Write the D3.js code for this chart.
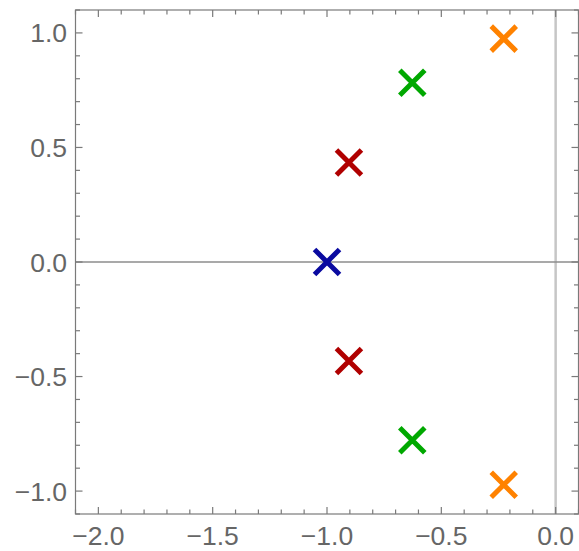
<!DOCTYPE html>
<html>
<head>
<meta charset="utf-8">
<script src="https://cdn.jsdelivr.net/npm/d3@7"></script>
<style>
  html, body { margin: 0; padding: 0; background: #fff; }
  svg { display: block; }
  .tick-label { font-family: "Liberation Sans", Arial, sans-serif; font-size: 26.5px; fill: #666; }
</style>
</head>
<body>
<div id="chart"></div>
<script>
const poleRe = [-1.0, -0.904, -0.904, -0.627, -0.627, -0.227, -0.227];
const poleIm = [0.0, 0.434, -0.432, 0.782, -0.778, 0.975, -0.972];
const poleGroup = [0, 1, 1, 2, 2, 3, 3];
const groupColors = ["#0a0aa0", "#b00000", "#00a800", "#ff8200"];

const xMajor = [-2.0, -1.5, -1.0, -0.5, 0.0];
const xLabels = ["\u22122.0", "\u22121.5", "\u22121.0", "\u22120.5", "0.0"];
const yMajor = [-1.0, -0.5, 0.0, 0.5, 1.0];
const yLabels = ["\u22121.0", "\u22120.5", "0.0", "0.5", "1.0"];

const width = 579, height = 551;
const plotLeft = 75.5, plotRight = 578.5, plotTop = 10, plotBottom = 514;

const x = d3.scaleLinear().domain([-2.1, 0.1]).range([plotLeft, plotRight]);
const y = d3.scaleLinear().domain([-1.1, 1.1]).range([plotBottom, plotTop]);

const svg = d3.select("#chart").append("svg")
  .attr("width", width)
  .attr("height", height);

// minor ticks every 0.1
const xMinor = d3.range(-21, 2).map(i => i / 10).filter(v => !xMajor.some(m => Math.abs(m - v) < 1e-9));
const yMinor = d3.range(-11, 12).map(i => i / 10).filter(v => !yMajor.some(m => Math.abs(m - v) < 1e-9));

// axis lines through origin
svg.append("line")
  .attr("x1", x(0)).attr("x2", x(0))
  .attr("y1", plotTop).attr("y2", plotBottom)
  .attr("stroke", "#c6c6c6").attr("stroke-width", 2.5);
svg.append("line")
  .attr("x1", plotLeft).attr("x2", plotRight)
  .attr("y1", y(0)).attr("y2", y(0))
  .attr("stroke", "#8c8c8c").attr("stroke-width", 1.6);

// frame
const frame = svg.append("g")
  .attr("stroke", "#7a7a7a")
  .attr("stroke-width", 1.2)
  .attr("fill", "none");
frame.append("rect")
  .attr("x", plotLeft).attr("y", plotTop)
  .attr("width", plotRight - plotLeft).attr("height", plotBottom - plotTop);

const majLen = 7, minLen = 4.5;
function xTicks(vals, len) {
  vals.forEach(v => {
    frame.append("line").attr("x1", x(v)).attr("x2", x(v)).attr("y1", plotBottom).attr("y2", plotBottom - len);
    frame.append("line").attr("x1", x(v)).attr("x2", x(v)).attr("y1", plotTop).attr("y2", plotTop + len);
  });
}
function yTicks(vals, len) {
  vals.forEach(v => {
    frame.append("line").attr("y1", y(v)).attr("y2", y(v)).attr("x1", plotLeft).attr("x2", plotLeft + len);
    frame.append("line").attr("y1", y(v)).attr("y2", y(v)).attr("x1", plotRight).attr("x2", plotRight - len);
  });
}
xTicks(xMajor, majLen);
xTicks(xMinor, minLen);
yTicks(yMajor, majLen);
yTicks(yMinor, minLen);

// tick labels
svg.append("g").selectAll("text")
  .data(xMajor)
  .join("text")
  .attr("class", "tick-label")
  .attr("x", d => x(d))
  .attr("y", 545)
  .attr("text-anchor", "middle")
  .text((d, i) => xLabels[i]);

svg.append("g").selectAll("text")
  .data(yMajor)
  .join("text")
  .attr("class", "tick-label")
  .attr("x", 67)
  .attr("y", d => y(d) + 9.5)
  .attr("text-anchor", "end")
  .text((d, i) => yLabels[i]);

// pole markers
const arm = 12.5;
const poles = poleRe.map((re, i) => ({ re: re, im: poleIm[i], g: poleGroup[i] }));
svg.append("g").selectAll("path")
  .data(poles)
  .join("path")
  .attr("d", d => {
    const cx = x(d.re), cy = y(d.im);
    return `M${cx - arm},${cy - arm}L${cx + arm},${cy + arm}M${cx - arm},${cy + arm}L${cx + arm},${cy - arm}`;
  })
  .attr("stroke", d => groupColors[d.g])
  .attr("stroke-width", 5)
  .attr("fill", "none");
</script>
</body>
</html>
